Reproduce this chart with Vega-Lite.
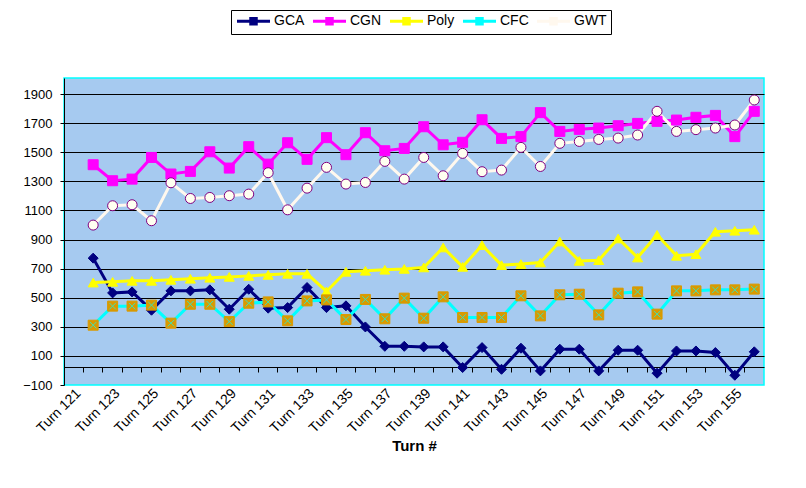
{
  "$schema": "https://vega.github.io/schema/vega-lite/v6.json",
  "width": 700,
  "height": 307,
  "padding": {"left": 22, "top": 9, "right": 5, "bottom": 5},
  "config": {
    "font": "Liberation Sans",
    "view": {"fill": "#A6CAF0", "stroke": "#00FFFF", "strokeWidth": 1.5},
    "background": "white"
  },
  "data": {
    "values": [
      {"turn": "Turn 122", "GCA": 772, "CGN": 1414, "Poly": 604, "CFC": 311, "GWT": 999},
      {"turn": "Turn 123", "GCA": 533, "CGN": 1304, "Poly": 609, "CFC": 442, "GWT": 1132},
      {"turn": "Turn 124", "GCA": 540, "CGN": 1315, "Poly": 616, "CFC": 442, "GWT": 1139},
      {"turn": "Turn 125", "GCA": 414, "CGN": 1464, "Poly": 616, "CFC": 449, "GWT": 1029},
      {"turn": "Turn 126", "GCA": 547, "CGN": 1350, "Poly": 623, "CFC": 325, "GWT": 1290},
      {"turn": "Turn 127", "GCA": 547, "CGN": 1368, "Poly": 630, "CFC": 455, "GWT": 1182},
      {"turn": "Turn 128", "GCA": 554, "CGN": 1503, "Poly": 637, "CFC": 455, "GWT": 1189},
      {"turn": "Turn 129", "GCA": 421, "CGN": 1391, "Poly": 643, "CFC": 336, "GWT": 1201},
      {"turn": "Turn 130", "GCA": 558, "CGN": 1538, "Poly": 650, "CFC": 462, "GWT": 1212},
      {"turn": "Turn 131", "GCA": 428, "CGN": 1418, "Poly": 657, "CFC": 471, "GWT": 1359},
      {"turn": "Turn 132", "GCA": 432, "CGN": 1565, "Poly": 664, "CFC": 341, "GWT": 1104},
      {"turn": "Turn 133", "GCA": 570, "CGN": 1451, "Poly": 664, "CFC": 478, "GWT": 1253},
      {"turn": "Turn 134", "GCA": 432, "CGN": 1600, "Poly": 543, "CFC": 485, "GWT": 1396},
      {"turn": "Turn 135", "GCA": 444, "CGN": 1483, "Poly": 678, "CFC": 350, "GWT": 1281},
      {"turn": "Turn 136", "GCA": 299, "CGN": 1634, "Poly": 685, "CFC": 488, "GWT": 1292},
      {"turn": "Turn 137", "GCA": 166, "CGN": 1510, "Poly": 692, "CFC": 355, "GWT": 1437},
      {"turn": "Turn 138", "GCA": 166, "CGN": 1526, "Poly": 698, "CFC": 497, "GWT": 1315},
      {"turn": "Turn 139", "GCA": 162, "CGN": 1675, "Poly": 708, "CFC": 359, "GWT": 1464},
      {"turn": "Turn 140", "GCA": 162, "CGN": 1551, "Poly": 845, "CFC": 506, "GWT": 1338},
      {"turn": "Turn 141", "GCA": 20, "CGN": 1568, "Poly": 712, "CFC": 364, "GWT": 1492},
      {"turn": "Turn 142", "GCA": 157, "CGN": 1723, "Poly": 861, "CFC": 364, "GWT": 1366},
      {"turn": "Turn 143", "GCA": 8, "CGN": 1595, "Poly": 724, "CFC": 364, "GWT": 1377},
      {"turn": "Turn 144", "GCA": 153, "CGN": 1607, "Poly": 731, "CFC": 513, "GWT": 1533},
      {"turn": "Turn 145", "GCA": -3, "CGN": 1772, "Poly": 742, "CFC": 375, "GWT": 1402},
      {"turn": "Turn 146", "GCA": 146, "CGN": 1643, "Poly": 886, "CFC": 520, "GWT": 1561},
      {"turn": "Turn 147", "GCA": 146, "CGN": 1657, "Poly": 753, "CFC": 524, "GWT": 1574},
      {"turn": "Turn 148", "GCA": -3, "CGN": 1666, "Poly": 758, "CFC": 382, "GWT": 1588},
      {"turn": "Turn 149", "GCA": 139, "CGN": 1682, "Poly": 907, "CFC": 531, "GWT": 1597},
      {"turn": "Turn 150", "GCA": 139, "CGN": 1698, "Poly": 776, "CFC": 540, "GWT": 1618},
      {"turn": "Turn 151", "GCA": -19, "CGN": 1712, "Poly": 932, "CFC": 387, "GWT": 1781},
      {"turn": "Turn 152", "GCA": 134, "CGN": 1721, "Poly": 788, "CFC": 547, "GWT": 1643},
      {"turn": "Turn 153", "GCA": 134, "CGN": 1740, "Poly": 799, "CFC": 547, "GWT": 1655},
      {"turn": "Turn 154", "GCA": 123, "CGN": 1753, "Poly": 953, "CFC": 554, "GWT": 1666},
      {"turn": "Turn 155", "GCA": -33, "CGN": 1607, "Poly": 960, "CFC": 554, "GWT": 1687},
      {"turn": "Turn 156", "GCA": 128, "CGN": 1781, "Poly": 967, "CFC": 559, "GWT": 1859}
    ]
  },
  "transform": [
    {"fold": ["GCA", "CGN", "Poly", "CFC", "GWT"], "as": ["series", "value"]}
  ],
  "resolve": {"axis": {"x": "independent"}},
  "layer": [
    {
      "mark": {"type": "line", "strokeWidth": 3},
      "encoding": {
        "x": {
          "field": "turn", "type": "nominal",
          "scale": {"type": "band", "paddingInner": 0, "paddingOuter": 0,
            "domain": ["Turn 121","Turn 122","Turn 123","Turn 124","Turn 125","Turn 126","Turn 127","Turn 128","Turn 129","Turn 130","Turn 131","Turn 132","Turn 133","Turn 134","Turn 135","Turn 136","Turn 137","Turn 138","Turn 139","Turn 140","Turn 141","Turn 142","Turn 143","Turn 144","Turn 145","Turn 146","Turn 147","Turn 148","Turn 149","Turn 150","Turn 151","Turn 152","Turn 153","Turn 154","Turn 155","Turn 156"]},
          "axis": {
            "orient": "bottom", "title": "Turn #", "titleFontSize": 15, "titleFontWeight": "bold", "titleColor": "black", "titlePadding": 3,
            "labelAngle": -45, "labelFontSize": 14, "labelColor": "black", "labelPadding": 1,
            "labelExpr": "parseInt(substring(datum.value, 5)) % 2 == 1 ? datum.value : ''",
            "ticks": false, "domain": false, "grid": false, "labelOverlap": false
          }
        },
        "y": {
          "field": "value", "type": "quantitative",
          "scale": {"domain": [-100, 2010], "nice": false, "zero": false},
          "axis": {
            "title": null, "values": [-100, 100, 300, 500, 700, 900, 1100, 1300, 1500, 1700, 1900],
            "tickCount": 30, "format": "d", "labelOverlap": false,
            "grid": true, "gridColor": "black", "gridWidth": 1,
            "gridOpacity": {"condition": {"test": "datum.value < 0", "value": 0}, "value": 1},
            "domainColor": "black", "tickColor": "black", "tickSize": 4,
            "labelFontSize": 13, "labelColor": "black", "labelPadding": 8
          }
        },
        "color": {
          "field": "series", "type": "nominal",
          "scale": {"domain": ["GCA", "CGN", "Poly", "CFC", "GWT"], "range": ["#000080", "#FF00FF", "#FFFF00", "#00FFFF", "#FFF8EE"]},
          "legend": {"orient": "none", "legendX": 167, "legendY": -68, "direction": "horizontal", "title": null,
            "symbolType": "M-3.3,0H3.3M-0.55,-0.55H0.55V0.55H-0.55Z", "symbolSize": 100, "symbolStrokeWidth": 3, "symbolOpacity": 1, "symbolOffset": 11.5,
            "strokeColor": "black", "padding": 4, "labelFontSize": 14, "labelColor": "black", "labelOffset": 13.5, "columnPadding": 2}
        }
      }
    },
    {
      "mark": {"type": "point", "filled": true, "strokeWidth": 1, "opacity": 1, "size": 100},
      "encoding": {
        "x": {
          "field": "turn", "type": "nominal",
          "axis": {
            "orient": "bottom", "offset": -18, "bandPosition": 0, "title": null, "labels": false,
            "ticks": true, "tickSize": 5, "tickColor": "black", "domain": true, "domainColor": "black", "grid": false
          }
        },
        "y": {"field": "value", "type": "quantitative"},
        "shape": {
          "field": "series", "type": "nominal", "sort": ["GCA", "CGN", "Poly", "CFC", "GWT"],
          "scale": {"range": ["diamond", "square", "triangle-up", "square", "circle"]},
          "legend": null
        },
        "fill": {
          "field": "series", "type": "nominal", "sort": ["GCA", "CGN", "Poly", "CFC", "GWT"],
          "scale": {"range": ["#000080", "#FF00FF", "#FFFF00", "#D99A00", "#FFFFF0"]},
          "legend": null
        },
        "stroke": {
          "field": "series", "type": "nominal", "sort": ["GCA", "CGN", "Poly", "CFC", "GWT"],
          "scale": {"range": ["#000080", "#FF00FF", "#FFFF00", "#D99A00", "#800080"]},
          "legend": null
        }
      }
    },
    {
      "transform": [{"filter": "datum.series == 'CFC'"}],
      "mark": {"type": "point", "filled": false, "shape": "M-0.62,-0.62L0.62,0.62M-0.62,0.62L0.62,-0.62", "size": 110, "stroke": "#00FFFF", "strokeWidth": 1},
      "encoding": {
        "x": {"field": "turn", "type": "nominal", "axis": null},
        "y": {"field": "value", "type": "quantitative"}
      }
    }
  ]
}
